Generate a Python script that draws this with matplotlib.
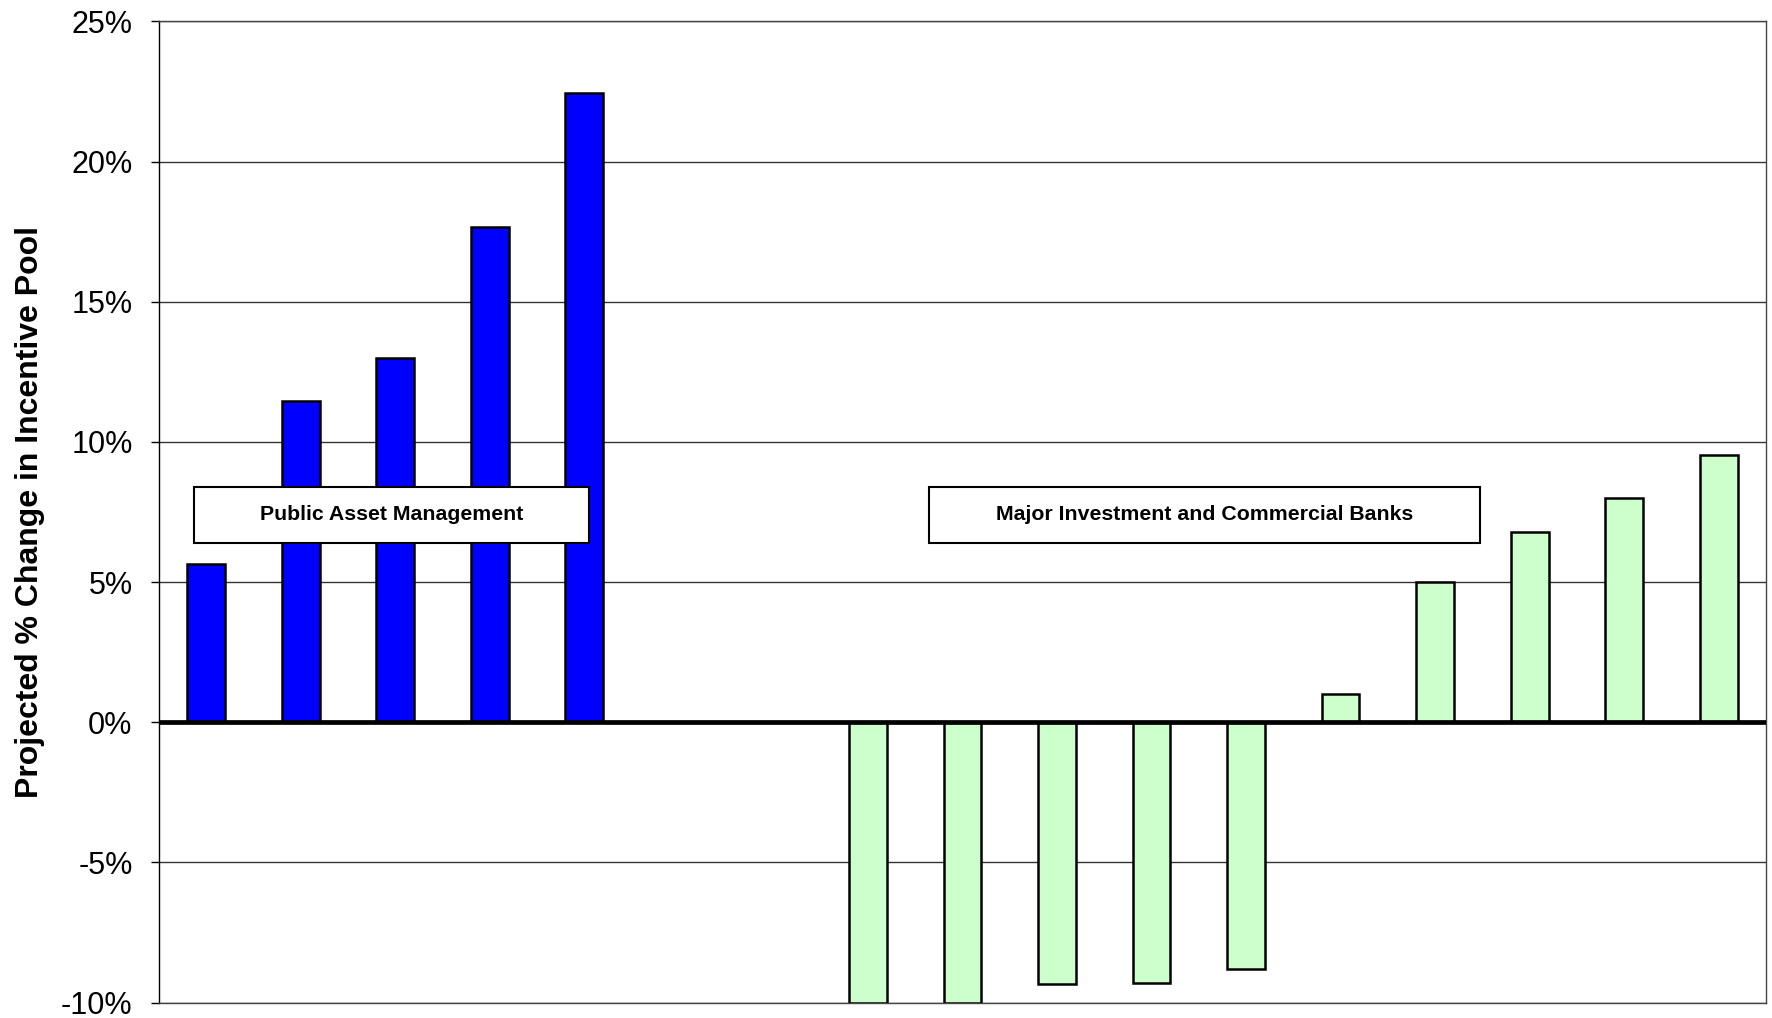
import matplotlib.pyplot as plt
from matplotlib.patches import Rectangle
from matplotlib.ticker import FuncFormatter

# slot index of each bar along the x axis (slots 5-6 left empty as a gap)
asset_slots = [0, 1, 2, 3, 4]
asset_change = [5.65, 11.45, 13.0, 17.65, 22.45]

bank_slots = [7, 8, 9, 10, 11, 12, 13, 14, 15, 16]
bank_change = [-10.0, -10.0, -9.35, -9.3, -8.8, 1.0, 5.0, 6.8, 8.0, 9.55]

group_labels = ["Public Asset Management", "Major Investment and Commercial Banks"]
y_ticks = [-10, -5, 0, 5, 10, 15, 20, 25]

plt.rcParams['font.family'] = ['Liberation Sans', 'DejaVu Sans']

fig = plt.figure(figsize=(17.72, 10.18), dpi=100)
ax = fig.add_axes([0.0897, 0.0152, 0.9069, 0.9637])

ax.bar(asset_slots, asset_change, width=0.4, color='#0000FF',
       edgecolor='black', linewidth=1.8, zorder=2)
ax.bar(bank_slots, bank_change, width=0.4, color='#CCFFCC',
       edgecolor='black', linewidth=1.8, zorder=2)

ax.axhline(0, color='black', linewidth=3.4, zorder=4)

ax.set_xlim(-0.5, 16.5)
ax.set_ylim(-10, 25)
ax.set_yticks(y_ticks)
ax.yaxis.set_major_formatter(FuncFormatter(lambda v, p: f"{v:.0f}%"))
ax.tick_params(axis='y', labelsize=22, length=6, width=1, pad=13, direction='out')
ax.set_xticks([])
ax.grid(axis='y', color='#333333', linewidth=1.0, zorder=0)
ax.set_axisbelow(True)

for side in ['top', 'right', 'bottom']:
    ax.spines[side].set_color('#444444')
    ax.spines[side].set_linewidth(1.0)
ax.spines['left'].set_color('black')
ax.spines['left'].set_linewidth(1.0)

ax.set_ylabel("Projected % Change in Incentive Pool", fontsize=23,
              fontweight='bold')
ax.yaxis.set_label_coords(-0.071, 0.5)

# boxed group captions
boxes = [(-0.13, 4.05), (7.65, 13.48)]
for (x0, x1), label in zip(boxes, group_labels):
    ax.add_patch(Rectangle((x0, 6.41), x1 - x0, 1.98, facecolor='white',
                           edgecolor='black', linewidth=1.5, zorder=5))
    ax.text((x0 + x1) / 2, 7.4, label, ha='center', va='center',
            fontsize=15.3, fontweight='bold', zorder=6)

fig.savefig("out.png", dpi=100)
